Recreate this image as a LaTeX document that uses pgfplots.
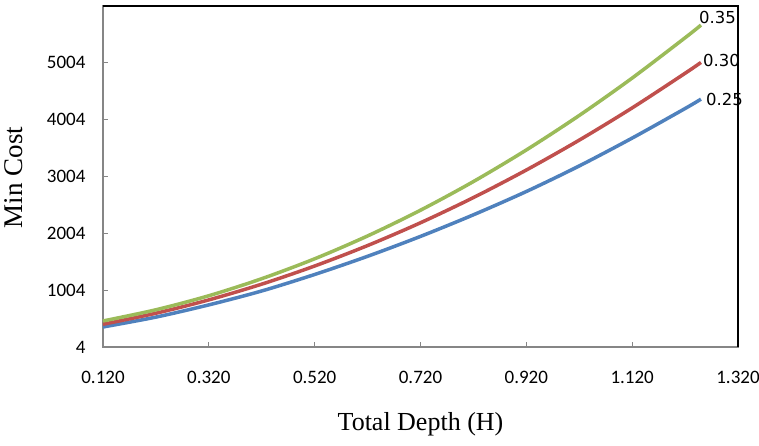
\documentclass[border=0pt]{standalone}
\usepackage{pgfplots}
\pgfplotsset{compat=1.18}
\usepackage{fontspec}
\setmainfont{Liberation Serif}
\newfontfamily\tickfont{Carlito}
\newfontfamily\labfont{DejaVu Sans}
\definecolor{cblue}{HTML}{4F81BD}
\definecolor{cred}{HTML}{C0504D}
\definecolor{cgreen}{HTML}{9BBB59}
\definecolor{axgray}{HTML}{868686}

\pgfplotstableread{
H     c25   c30   c35
0.12  356   404   462
0.22  530   598   659
0.32  745   833   906
0.42  990   1110  1206
0.52  1280  1429  1556
0.62  1600  1789  1958
0.72  1950  2190  2411
0.82  2330  2633  2915
0.92  2740  3118  3471
1.02  3190  3644  4078
1.12  3680  4211  4736
1.22  4200  4820  5445
1.25  4365  5011  5668
}\datatable

\begin{document}
\begin{tikzpicture}
\begin{axis}[
  scale only axis, width=635pt, height=341pt,
  xmin=0.12, xmax=1.32, ymin=4, ymax=6004,
  xtick={0.12,0.32,0.52,0.72,0.92,1.12,1.32},
  xticklabels={0.120,0.320,0.520,0.720,0.920,1.120,1.320},
  ytick={4,1004,2004,3004,4004,5004},
  yticklabels={4,1004,2004,3004,4004,5004},
  xtick pos=left, ytick pos=left,
  tick align=inside, major tick length=5pt,
  tick style={axgray, line width=1pt},
  axis line style={axgray, line width=2pt},
  xticklabel style={font=\tickfont\fontsize{19}{19}\selectfont, yshift=-21pt},
  yticklabel style={font=\tickfont\fontsize{19}{19}\selectfont, xshift=-14pt},
  xlabel={Total Depth (H)},
  ylabel={Min Cost},
  xlabel style={font=\fontsize{26}{26}\selectfont, at={(axis description cs:0.5,-0.227)}, anchor=center},
  ylabel style={font=\fontsize{27}{27}\selectfont, at={(axis description cs:-0.140,0.497)}, anchor=center},
  clip=false,
]
\addplot[cblue, line width=3.5pt, smooth] table[x=H, y=c25] {\datatable};
\addplot[cred, line width=3.5pt, smooth] table[x=H, y=c30] {\datatable};
\addplot[cgreen, line width=3.5pt, smooth] table[x=H, y=c35] {\datatable};
\draw[black, line width=2.8pt] (rel axis cs:0,1) -- (rel axis cs:1,1) -- (rel axis cs:1,0);
\node[anchor=west, inner sep=0pt, font=\labfont\fontsize{16.5}{16.5}\selectfont, xshift=-2pt, yshift=8pt] at (axis cs:1.25,5668) {0.35};
\node[anchor=west, inner sep=0pt, font=\labfont\fontsize{16.5}{16.5}\selectfont, xshift=2pt, yshift=2pt] at (axis cs:1.25,5011) {0.30};
\node[anchor=west, inner sep=0pt, font=\labfont\fontsize{16.5}{16.5}\selectfont, xshift=5pt, yshift=0pt] at (axis cs:1.25,4365) {0.25};
\end{axis}
\pgfresetboundingbox
\path ([shift={(-103pt,-99pt)}]current axis.south west) rectangle ([shift={(21pt,6pt)}]current axis.north east);
\end{tikzpicture}
\end{document}
